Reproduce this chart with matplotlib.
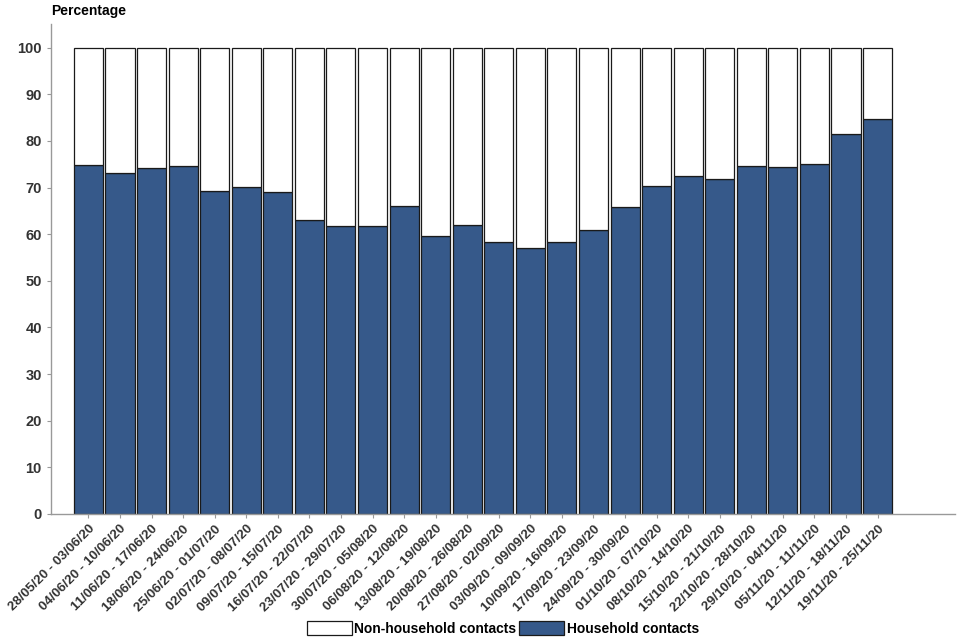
import matplotlib.pyplot as plt
import numpy as np

plt.rcParams['font.family'] = ['Liberation Sans', 'DejaVu Sans']

# Weekly periods
weeks = [
    "28/05/20 - 03/06/20", "04/06/20 - 10/06/20", "11/06/20 - 17/06/20",
    "18/06/20 - 24/06/20", "25/06/20 - 01/07/20", "02/07/20 - 08/07/20",
    "09/07/20 - 15/07/20", "16/07/20 - 22/07/20", "23/07/20 - 29/07/20",
    "30/07/20 - 05/08/20", "06/08/20 - 12/08/20", "13/08/20 - 19/08/20",
    "20/08/20 - 26/08/20", "27/08/20 - 02/09/20", "03/09/20 - 09/09/20",
    "10/09/20 - 16/09/20", "17/09/20 - 23/09/20", "24/09/20 - 30/09/20",
    "01/10/20 - 07/10/20", "08/10/20 - 14/10/20", "15/10/20 - 21/10/20",
    "22/10/20 - 28/10/20", "29/10/20 - 04/11/20", "05/11/20 - 11/11/20",
    "12/11/20 - 18/11/20", "19/11/20 - 25/11/20",
]

# Household share (%), rest is non-household
household = [74.8, 73.2, 74.1, 74.7, 69.3, 70.2, 69.0, 63.1, 61.8, 61.8,
             66.1, 59.5, 61.9, 58.4, 57.1, 58.4, 60.9, 65.9, 70.4, 72.4,
             71.9, 74.7, 74.5, 75.1, 81.5, 84.7]
non_household = [100 - v for v in household]

blue = "#36598a"
grey = "#999999"

fig = plt.figure(figsize=(9.6, 6.4), dpi=100)
ax = fig.add_axes([0.053, 0.197, 0.942, 0.765])

x = np.arange(len(weeks))
ax.bar(x, household, width=0.92, color=blue, edgecolor="#1a1a1a", linewidth=0.9,
       label="Household contacts")
ax.bar(x, non_household, width=0.92, bottom=household, color="white",
       edgecolor="#1a1a1a", linewidth=0.9, label="Non-household contacts")

ax.set_xlim(-1.19, 27.46)
ax.set_ylim(0, 105)
ax.set_yticks(range(0, 101, 10))
ax.set_xticks(x)
ax.set_xticklabels(weeks, rotation=45, ha="right", rotation_mode="anchor")

for s in ["top", "right"]:
    ax.spines[s].set_visible(False)
for s in ["left", "bottom"]:
    ax.spines[s].set_color(grey)
    ax.spines[s].set_linewidth(1)

ax.tick_params(axis="both", colors=grey, length=3, width=0.8)
for lab in ax.get_yticklabels():
    lab.set_fontsize(10.5)
    lab.set_fontweight("bold")
    lab.set_color("#333333")
for lab in ax.get_xticklabels():
    lab.set_fontsize(9.6)
    lab.set_fontweight("bold")
    lab.set_color("#333333")

fig.text(0.053, 0.994, "Percentage", fontsize=10, fontweight="bold", va="top", ha="left")

handles, labels = ax.get_legend_handles_labels()
leg = fig.legend(handles[::-1], labels[::-1], loc="lower center", ncol=2,
                 bbox_to_anchor=(0.524, -0.013), frameon=False,
                 handlelength=3.2, handleheight=1.2, handletextpad=0.2,
                 columnspacing=0.2, prop={"weight": "bold", "size": 10})

fig.savefig("out.png", dpi=100)
